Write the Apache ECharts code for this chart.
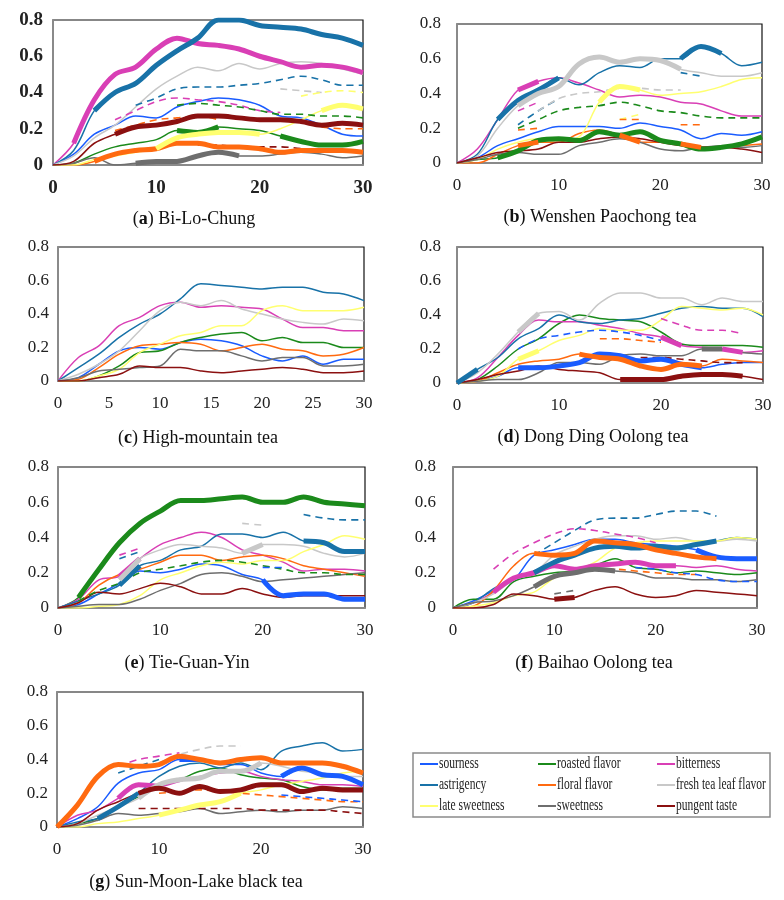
<!DOCTYPE html>
<html>
<head>
<meta charset="utf-8">
<script src="https://cdn.jsdelivr.net/npm/echarts@6.0.0/dist/echarts.min.js"></script>
<style>html,body{margin:0;background:#fff}#chart{width:784px;height:900px}</style>
</head>
<body>
<div id="chart"></div>
<script>
var _ = null;
// time points (s)
var secs = [0, 2, 4, 6, 8, 10, 12, 14, 16, 18, 20, 22, 24, 26, 28, 30];
var attrNames = ['sourness', 'roasted flavor', 'bitterness', 'astrigency', 'floral flavor',
    'fresh tea leaf flavor', 'late sweetness', 'sweetness', 'pungent taste'];
var colors = ['#1a5cff', '#1b8a1b', '#d93fb5', '#1872a8', '#ff6a10', '#c8c8c8', '#ffff70', '#6e6e6e', '#8b1010'];
var yTicks = [0, 0.2, 0.4, 0.6, 0.8];

// (a) Bi-Lo-Chung
var aSour   = [0, 0.06, 0.17, 0.22, 0.27, 0.26, 0.32, 0.35, 0.37, 0.36, 0.33, 0.27, 0.26, 0.22, 0.17, 0.16];
var aRoast  = [0, 0.01, 0.06, 0.10, 0.12, 0.14, 0.19, 0.18, 0.21, 0.20, 0.19, 0.16, 0.13, 0.11, 0.11, 0.13];
var aBitter = [0, 0.12, 0.36, 0.50, 0.54, 0.64, 0.70, 0.67, 0.66, 0.64, 0.60, 0.57, 0.54, 0.55, 0.54, 0.51];
var aAstr   = [0, 0.08, 0.30, 0.40, 0.45, 0.55, 0.63, 0.70, 0.80, 0.80, 0.77, 0.76, 0.75, 0.72, 0.70, 0.66];
var aFloral = [0, 0, 0.02, 0.06, 0.08, 0.09, 0.12, 0.12, 0.10, 0.10, 0.09, 0.07, 0.08, 0.08, 0.08, 0.07];
var aFresh  = [0, 0.05, 0.15, 0.22, 0.32, 0.42, 0.49, 0.54, 0.52, 0.56, 0.53, 0.56, 0.57, 0.56, 0.53, 0.50];
var aLate   = [0, 0, 0.03, 0.05, 0.07, 0.09, 0.15, 0.17, 0.18, 0.18, 0.17, 0.20, 0.25, 0.30, 0.33, 0.31];
var aSweet  = [0, 0.01, 0.04, 0, 0.01, 0.02, 0.02, 0.05, 0.07, 0.05, 0.05, 0.06, 0.07, 0.06, 0.04, 0.05];
var aPung   = [0, 0.02, 0.12, 0.17, 0.21, 0.22, 0.24, 0.27, 0.27, 0.26, 0.25, 0.25, 0.24, 0.22, 0.23, 0.22];
var aThick  = [[], [[12, 16], [22, 30]], [[2, 30]], [[4, 30]], [[4, 30]], [], [[10, 20], [26, 30]], [[8, 18]], [[6, 30]]];
var aAstrDash   = [_, _, _, _, 0.33, 0.37, 0.42, 0.43, 0.43, 0.44, 0.45, 0.47, 0.49, 0.47, 0.44, 0.44];
var aBitterDash = [_, _, _, 0.25, 0.30, 0.35, 0.37, 0.36, 0.35, 0.33, 0.30, 0.29, _, _, _, _];
var aRoastDash  = [_, _, _, _, _, _, 0.33, 0.34, 0.33, 0.32, 0.30, 0.28, 0.28, 0.27, 0.27, 0.26];
var aFloralDash = [_, _, _, 0.19, 0.22, 0.25, 0.26, 0.27, 0.25, _, _, _, _, 0.21, 0.20, 0.20];
var aFreshDash  = [_, _, _, _, _, _, _, _, _, _, _, 0.42, 0.41, 0.40, _, _];
var aLateDash   = [_, _, _, _, _, _, _, _, _, _, _, _, 0.38, 0.40, 0.41, 0.40];
var aPungDash   = [_, _, _, _, _, _, _, 0.11, 0.11, 0.10, 0.10, 0.10, 0.09, _, _, _];

// (b) Wenshen Paochong tea
var bSour   = [0, 0.03, 0.10, 0.14, 0.18, 0.21, 0.21, 0.21, 0.20, 0.23, 0.21, 0.19, 0.14, 0.17, 0.16, 0.18];
var bRoast  = [0, 0.02, 0.03, 0.07, 0.13, 0.14, 0.13, 0.18, 0.16, 0.18, 0.13, 0.11, 0.08, 0.09, 0.11, 0.15];
var bBitter = [0, 0.08, 0.25, 0.42, 0.47, 0.49, 0.46, 0.42, 0.38, 0.39, 0.38, 0.35, 0.34, 0.30, 0.27, 0.27];
var bAstr   = [0, 0.05, 0.25, 0.36, 0.42, 0.49, 0.45, 0.52, 0.56, 0.55, 0.60, 0.60, 0.67, 0.63, 0.56, 0.58];
var bFloral = [0, 0, 0.05, 0.10, 0.12, 0.12, 0.17, 0.19, 0.16, 0.12, 0.12, 0.11, 0.09, 0.09, 0.10, 0.11];
var bFresh  = [0, 0.04, 0.20, 0.33, 0.40, 0.44, 0.57, 0.61, 0.58, 0.60, 0.59, 0.54, 0.52, 0.50, 0.50, 0.52];
var bLate   = [0, 0.02, 0.08, 0.12, 0.14, 0.13, 0.15, 0.35, 0.44, 0.42, 0.39, 0.40, 0.41, 0.44, 0.48, 0.49];
var bSweet  = [0, 0.02, 0.05, 0.06, 0.05, 0.05, 0.10, 0.12, 0.14, 0.12, 0.08, 0.07, 0.09, 0.10, 0.09, 0.10];
var bPung   = [0, 0.03, 0.06, 0.07, 0.08, 0.12, 0.12, 0.14, 0.15, 0.14, 0.12, 0.10, 0.09, 0.09, 0.08, 0.06];
var bThick  = [[], [[4, 30]], [[6, 8]], [[4, 10], [22, 26]], [[6, 8], [16, 18], [22, 24]], [[6, 8], [10, 22]], [[14, 18]], [], []];
var bAstrDash   = [_, _, _, 0.22, 0.30, 0.37, _, _, _, _, _, 0.52, 0.50, _, _, _];
var bFreshDash  = [_, _, _, _, 0.30, 0.37, 0.40, 0.41, 0.43, 0.43, 0.42, 0.42, _, _, _, _];
var bBitterDash = [_, _, _, 0.30, 0.35, _, _, _, _, _, _, _, _, _, _, _];
var bRoastDash  = [_, _, _, 0.20, 0.25, 0.30, 0.32, 0.33, 0.35, 0.33, 0.30, 0.29, 0.27, 0.26, 0.26, 0.26];
var bLateDash   = [_, _, _, _, _, _, _, _, 0.25, 0.28, _, _, _, _, _, _];
var bFloralDash = [_, _, _, 0.19, 0.20, _, _, _, 0.25, 0.25, _, 0.22, 0.22, _, _, _];

// (c) High-mountain tea
var cSour   = [0, 0.02, 0.10, 0.18, 0.20, 0.19, 0.23, 0.25, 0.24, 0.21, 0.15, 0.12, 0.15, 0.10, 0.13, 0.13];
var cRoast  = [0, 0, 0.03, 0.09, 0.17, 0.18, 0.23, 0.26, 0.28, 0.29, 0.24, 0.26, 0.23, 0.23, 0.20, 0.20];
var cBitter = [0, 0.14, 0.21, 0.33, 0.38, 0.45, 0.47, 0.44, 0.45, 0.44, 0.43, 0.37, 0.32, 0.32, 0.30, 0.30];
var cAstr   = [0, 0.08, 0.16, 0.26, 0.34, 0.40, 0.49, 0.58, 0.57, 0.56, 0.55, 0.56, 0.56, 0.53, 0.52, 0.48];
var cFloral = [0, 0.01, 0.08, 0.16, 0.21, 0.22, 0.23, 0.22, 0.18, 0.20, 0.22, 0.19, 0.18, 0.15, 0.16, 0.20];
var cFresh  = [0, 0.04, 0.10, 0.18, 0.30, 0.42, 0.47, 0.45, 0.48, 0.43, 0.40, 0.37, 0.35, 0.34, 0.37, 0.36];
var cLate   = [0, 0, 0.03, 0.07, 0.17, 0.22, 0.27, 0.29, 0.33, 0.33, 0.42, 0.45, 0.42, 0.42, 0.42, 0.44];
var cSweet  = [0, 0.02, 0.06, 0.07, 0.08, 0.09, 0.19, 0.18, 0.18, 0.15, 0.12, 0.14, 0.14, 0.09, 0.09, 0.10];
var cPung   = [0, 0, 0.02, 0.04, 0.09, 0.08, 0.08, 0.06, 0.05, 0.06, 0.07, 0.08, 0.07, 0.05, 0.05, 0.06];
var cThick  = [[], [], [], [], [], [], [], [], []];

// (d) Dong Ding Oolong tea
var dSour   = [0, 0.01, 0.04, 0.09, 0.09, 0.10, 0.12, 0.17, 0.16, 0.13, 0.14, 0.11, 0.09, 0.11, 0.12, 0.12];
var dRoast  = [0, 0.02, 0.10, 0.20, 0.26, 0.35, 0.40, 0.38, 0.37, 0.36, 0.30, 0.23, 0.22, 0.22, 0.22, 0.21];
var dBitter = [0, 0.03, 0.15, 0.28, 0.37, 0.36, 0.36, 0.34, 0.32, 0.29, 0.27, 0.22, 0.21, 0.20, 0.18, 0.19];
var dAstr   = [0, 0.08, 0.15, 0.26, 0.32, 0.40, 0.36, 0.35, 0.37, 0.38, 0.41, 0.44, 0.45, 0.44, 0.44, 0.39];
var dFloral = [0, 0.01, 0.06, 0.11, 0.13, 0.14, 0.17, 0.15, 0.14, 0.10, 0.08, 0.11, 0.10, 0.14, 0.13, 0.12];
var dFresh  = [0, 0.06, 0.17, 0.30, 0.41, 0.42, 0.37, 0.47, 0.53, 0.53, 0.50, 0.50, 0.46, 0.50, 0.48, 0.48];
var dLate   = [0, 0.01, 0.04, 0.14, 0.19, 0.25, 0.28, 0.32, 0.31, 0.31, 0.37, 0.45, 0.44, 0.43, 0.44, 0.40];
var dSweet  = [0, 0.01, 0.02, 0.02, 0.06, 0.12, 0.12, 0.11, 0.16, 0.17, 0.16, 0.16, 0.20, 0.20, 0.18, 0.17];
var dPung   = [0, 0.02, 0.05, 0.07, 0.10, 0.08, 0.07, 0.06, 0.02, 0.02, 0.02, 0.04, 0.05, 0.05, 0.04, 0.02];
var dThick  = [[[6, 24]], [], [[20, 22], [26, 28]], [[0, 2]], [[12, 24]], [[6, 8]], [[6, 8]], [[24, 26]], [[16, 28]]];
var dSourDash   = [_, _, _, 0.20, 0.26, 0.28, 0.30, 0.31, 0.30, 0.28, 0.25, _, _, _, _, _];
var dFloralDash = [_, _, _, _, _, _, _, 0.26, 0.26, 0.25, 0.24, _, _, _, _, _];
var dBitterDash = [_, _, _, _, _, _, _, _, _, _, 0.38, 0.34, 0.31, 0.31, 0.29, _];
var dPungDash   = [_, _, _, _, _, _, _, _, _, 0.15, 0.15, 0.14, 0.13, 0.12, 0.12, _];

// (e) Tie-Guan-Yin
var eSour   = [0, 0.02, 0.08, 0.14, 0.21, 0.20, 0.22, 0.25, 0.24, 0.19, 0.16, 0.07, 0.08, 0.08, 0.05, 0.05];
var eRoast  = [0, 0.06, 0.22, 0.37, 0.48, 0.55, 0.61, 0.61, 0.62, 0.63, 0.60, 0.60, 0.63, 0.60, 0.59, 0.58];
var eBitter = [0, 0.05, 0.16, 0.18, 0.28, 0.36, 0.40, 0.43, 0.40, 0.33, 0.30, 0.26, 0.21, 0.22, 0.22, 0.21];
var eAstr   = [0, 0.04, 0.08, 0.13, 0.24, 0.27, 0.33, 0.35, 0.42, 0.42, 0.40, 0.43, 0.38, 0.37, 0.32, 0.32];
var eFloral = [0, 0.03, 0.13, 0.19, 0.22, 0.26, 0.30, 0.30, 0.27, 0.29, 0.30, 0.28, 0.24, 0.22, 0.20, 0.18];
var eFresh  = [_, _, _, 0.16, 0.28, 0.33, 0.36, 0.35, 0.34, 0.31, 0.36, 0.36, 0.35, 0.31, 0.29, 0.31];
var eLate   = [0, 0, 0.01, 0.02, 0.07, 0.16, 0.20, 0.24, 0.26, 0.25, 0.27, 0.27, 0.32, 0.36, 0.41, 0.39];
var eSweet  = [0, 0.01, 0.02, 0.02, 0.05, 0.10, 0.14, 0.19, 0.20, 0.18, 0.15, 0.16, 0.17, 0.18, 0.19, 0.20];
var ePung   = [0, 0.03, 0.09, 0.08, 0.11, 0.14, 0.12, 0.08, 0.08, 0.11, 0.08, 0.06, 0.07, 0.07, 0.07, 0.07];
var eThick  = [[[20, 30]], [[2, 30]], [[6, 8]], [[6, 8], [24, 30]], [], [[6, 8], [18, 20]], [], [], []];
var eRoastDash  = [_, 0.04, 0.10, 0.14, 0.20, 0.22, 0.24, 0.26, 0.27, 0.26, 0.24, 0.22, 0.20, 0.20, 0.19, 0.19];
var eAstrDash   = [_, _, _, 0.28, 0.32, _, _, _, _, _, _, _, 0.53, 0.51, 0.50, 0.50];
var eBitterDash = [_, _, _, 0.30, 0.34, _, _, _, _, _, _, _, _, _, _, _];
var eFreshDash  = [_, _, _, _, _, _, _, _, _, 0.48, 0.47, _, _, _, _, _];
var eSourDash   = [_, _, _, _, _, _, _, _, _, _, 0.23, 0.23, _, _, _, _];

// (f) Baihao Oolong tea
var fSour   = [0, 0.04, 0.10, 0.16, 0.30, 0.33, 0.36, 0.39, 0.39, 0.37, 0.36, 0.35, 0.33, 0.29, 0.28, 0.28];
var fRoast  = [0, 0.05, 0.05, 0.15, 0.18, 0.20, 0.21, 0.24, 0.28, 0.23, 0.22, 0.20, 0.21, 0.20, 0.19, 0.20];
var fBitter = [0, 0.03, 0.09, 0.17, 0.20, 0.24, 0.22, 0.24, 0.25, 0.26, 0.24, 0.24, 0.23, 0.24, 0.22, 0.21];
var fAstr   = [0, 0.03, 0.11, 0.16, 0.20, 0.26, 0.30, 0.34, 0.35, 0.34, 0.35, 0.34, 0.36, 0.38, 0.40, 0.39];
var fFloral = [0, 0.01, 0.10, 0.24, 0.31, 0.30, 0.31, 0.38, 0.37, 0.36, 0.33, 0.31, 0.29, 0.28, _, _];
var fFresh  = [0, 0.03, 0.08, 0.16, 0.20, 0.30, 0.35, 0.39, 0.41, 0.41, 0.39, 0.40, 0.38, 0.38, 0.39, 0.38];
var fLate   = [0, 0.01, 0.03, 0.07, 0.09, 0.17, 0.21, 0.26, 0.34, 0.37, 0.38, 0.38, 0.38, 0.38, 0.40, 0.39];
var fSweet  = [0, 0.03, 0.04, 0.07, 0.12, 0.18, 0.20, 0.22, 0.21, 0.20, 0.17, 0.17, 0.16, 0.16, 0.15, 0.16];
var fPung   = [0, 0, 0.02, 0.08, 0.07, 0.05, 0.06, 0.10, 0.12, 0.08, 0.06, 0.07, 0.10, 0.09, 0.08, 0.07];
var fThick  = [[[24, 30]], [], [[4, 22]], [[8, 26]], [[8, 10], [12, 26]], [], [], [[8, 16]], [[10, 12]]];
var fAstrDash   = [_, _, _, _, 0.30, 0.37, 0.44, 0.50, 0.51, 0.51, 0.53, 0.55, 0.55, 0.52, _, _];
var fBitterDash = [_, _, 0.22, 0.31, 0.37, 0.42, 0.45, 0.44, 0.42, 0.40, 0.37, _, _, _, _, _];
var fFloralDash = [_, _, _, _, _, _, _, 0.22, 0.22, 0.21, 0.20, 0.19, 0.19, _, _, _];
var fSourDash   = [_, _, _, _, _, _, _, _, _, 0.23, 0.22, 0.20, 0.19, 0.16, 0.15, 0.15];
var fSweetDash  = [_, _, _, _, _, 0.08, 0.10, _, _, _, _, _, _, _, _, _];

// (g) Sun-Moon-Lake black tea
var gSour   = [0, 0.05, 0.12, 0.26, 0.32, 0.34, 0.40, 0.40, 0.37, 0.37, 0.32, 0.30, 0.35, 0.31, 0.30, 0.25];
var gRoast  = [0, 0.02, 0.05, 0.12, 0.18, 0.24, 0.28, 0.33, 0.35, 0.31, 0.29, 0.28, 0.24, 0.22, 0.23, 0.23];
var gBitter = [0, 0.07, 0.10, 0.17, 0.25, 0.24, 0.27, 0.30, 0.32, 0.33, 0.30, 0.28, 0.27, 0.25, 0.25, 0.24];
var gAstr   = [0, 0.03, 0.05, 0.12, 0.20, 0.30, 0.36, 0.38, 0.35, 0.38, 0.34, 0.45, 0.48, 0.50, 0.45, 0.46];
var gFloral = [0, 0.13, 0.30, 0.37, 0.36, 0.37, 0.42, 0.40, 0.38, 0.40, 0.41, 0.38, 0.38, 0.38, 0.36, 0.32];
var gFresh  = [0, 0.02, 0.07, 0.12, 0.17, 0.25, 0.28, 0.29, 0.33, 0.33, 0.38, 0.36, 0.33, 0.32, 0.30, 0.30];
var gLate   = [0, 0, 0.02, 0.03, 0.05, 0.07, 0.10, 0.13, 0.15, 0.20, 0.22, 0.25, 0.27, 0.29, 0.32, 0.33];
var gSweet  = [0, 0.01, 0.04, 0.08, 0.07, 0.08, 0.09, 0.11, 0.08, 0.09, 0.10, 0.09, 0.10, 0.10, 0.12, 0.11];
var gPung   = [0, 0.02, 0.10, 0.15, 0.20, 0.23, 0.20, 0.24, 0.21, 0.22, 0.25, 0.25, 0.21, 0.23, 0.22, 0.22];
var gThick  = [[[12, 14], [22, 30]], [], [[6, 10]], [[4, 8]], [[0, 30]], [[8, 20]], [[10, 18]], [], [[8, 30]]];
var gFreshDash  = [_, _, _, _, _, 0.38, 0.43, 0.46, 0.48, 0.48, _, _, _, _, _, _];
var gBitterDash = [_, _, _, 0.36, 0.40, 0.42, 0.44, _, _, _, _, _, _, _, _, _];
var gAstrDash   = [_, _, _, 0.32, 0.36, 0.40, _, _, _, _, _, _, _, _, _, _];
var gFloralDash = [_, _, _, _, _, 0.20, 0.21, 0.22, 0.21, 0.20, 0.19, 0.18, 0.17, 0.16, 0.15, 0.15];
var gSourDash   = [_, _, _, _, _, _, _, _, _, _, _, 0.19, 0.18, 0.17, 0.16, 0.15];
var gPungDash   = [_, _, _, _, 0.11, 0.11, 0.11, 0.11, 0.11, 0.11, 0.10, 0.10, 0.10, 0.10, 0.09, 0.08];

var panels = [
    {tag: 'a', name: 'Bi-Lo-Chung', lines: [aSour, aRoast, aBitter, aAstr, aFloral, aFresh, aLate, aSweet, aPung], thick: aThick,
        dash: [[3, aAstrDash], [2, aBitterDash], [1, aRoastDash], [4, aFloralDash], [5, aFreshDash], [6, aLateDash], [8, aPungDash]],
        grid: {left: 53, top: 20, width: 310, height: 145}, cap: [194, 219], step: 10, ym: 10, xm: 14, big: true},
    {tag: 'b', name: 'Wenshen Paochong tea', lines: [bSour, bRoast, bBitter, bAstr, bFloral, bFresh, bLate, bSweet, bPung], thick: bThick,
        dash: [[3, bAstrDash], [5, bFreshDash], [2, bBitterDash], [1, bRoastDash], [6, bLateDash], [4, bFloralDash]],
        grid: {left: 457, top: 24, width: 305, height: 139}, cap: [600, 217], step: 10, ym: 16, xm: 14},
    {tag: 'c', name: 'High-mountain tea', lines: [cSour, cRoast, cBitter, cAstr, cFloral, cFresh, cLate, cSweet, cPung], thick: cThick,
        dash: [],
        grid: {left: 58, top: 247, width: 306, height: 134}, cap: [198, 438], step: 5, ym: 9, xm: 14},
    {tag: 'd', name: 'Dong Ding Oolong tea', lines: [dSour, dRoast, dBitter, dAstr, dFloral, dFresh, dLate, dSweet, dPung], thick: dThick,
        dash: [[0, dSourDash], [4, dFloralDash], [2, dBitterDash], [8, dPungDash]],
        grid: {left: 457, top: 247, width: 306, height: 136}, cap: [593, 437], step: 10, ym: 16, xm: 14},
    {tag: 'e', name: 'Tie-Guan-Yin', lines: [eSour, eRoast, eBitter, eAstr, eFloral, eFresh, eLate, eSweet, ePung], thick: eThick,
        dash: [[1, eRoastDash], [3, eAstrDash], [2, eBitterDash], [5, eFreshDash], [0, eSourDash]],
        grid: {left: 58, top: 467, width: 307, height: 141}, cap: [187, 663], step: 10, ym: 9, xm: 14},
    {tag: 'f', name: 'Baihao Oolong tea', lines: [fSour, fRoast, fBitter, fAstr, fFloral, fFresh, fLate, fSweet, fPung], thick: fThick,
        dash: [[3, fAstrDash], [2, fBitterDash], [4, fFloralDash], [0, fSourDash], [7, fSweetDash]],
        grid: {left: 453, top: 467, width: 304, height: 141}, cap: [594, 663], step: 10, ym: 17, xm: 14},
    {tag: 'g', name: 'Sun-Moon-Lake black tea', lines: [gSour, gRoast, gBitter, gAstr, gFloral, gFresh, gLate, gSweet, gPung], thick: gThick,
        dash: [[5, gFreshDash], [2, gBitterDash], [3, gAstrDash], [4, gFloralDash], [0, gSourDash], [8, gPungDash]],
        grid: {left: 57, top: 692, width: 306, height: 135}, cap: [196, 882], step: 10, ym: 9, xm: 14}
];

function pairs(vals) {
    return secs.map(function (s, i) { return [s, vals[i] == null ? '-' : vals[i]]; });
}
function mask(vals, ranges) {
    return secs.map(function (s, i) {
        var on = ranges.some(function (r) { return s >= r[0] && s <= r[1]; });
        return on ? vals[i] : null;
    });
}
function line(k, name, color, data, width, type) {
    return {
        type: 'line', name: name, xAxisIndex: k, yAxisIndex: k, data: data,
        smooth: 0.35, symbol: 'none', silent: true,
        lineStyle: {color: color, width: width, type: type},
        itemStyle: {color: color}
    };
}

var grids = [], xAxes = [], yAxes = [], series = [], graphics = [];
var serif = 'Liberation Serif';

panels.forEach(function (p, k) {
    var fs = p.big ? 19 : 17;
    var labelStyle = {fontFamily: serif, fontSize: fs, color: '#222', fontWeight: p.big ? 'bold' : 'normal'};
    grids.push(Object.assign({show: true, borderColor: '#111', borderWidth: 1.2}, p.grid));
    xAxes.push({
        gridIndex: k, type: 'value', min: 0, max: 30, interval: p.step,
        axisLine: {lineStyle: {color: '#8a8a8a', width: 2}},
        axisTick: {show: false}, splitLine: {show: false},
        axisLabel: Object.assign({margin: p.xm}, labelStyle)
    });
    yAxes.push({
        gridIndex: k, type: 'value', min: yTicks[0], max: yTicks[yTicks.length - 1], interval: 0.2,
        axisLine: {show: true, lineStyle: {color: '#8a8a8a', width: 2}},
        axisTick: {show: false}, splitLine: {show: false},
        axisLabel: Object.assign({margin: p.ym}, labelStyle)
    });
    p.lines.forEach(function (vals, j) {
        series.push(line(k, attrNames[j], colors[j], pairs(vals), 1.5, 'solid'));
    });
    p.dash.forEach(function (d) {
        series.push(line(k, 'dash ' + attrNames[d[0]], colors[d[0]], pairs(d[1]), 1.6, [7, 5]));
    });
    p.lines.forEach(function (vals, j) {
        if (p.thick[j].length) {
            series.push(line(k, 'thick ' + attrNames[j], colors[j], pairs(mask(vals, p.thick[j])), 5, 'solid'));
        }
    });
    graphics.push({
        type: 'text', x: p.cap[0], y: p.cap[1],
        style: {
            text: '(' + '{b|' + p.tag + '}) ' + p.name,
            fontFamily: serif, fontSize: 18, fill: '#111',
            align: 'center', verticalAlign: 'middle',
            rich: {b: {fontFamily: serif, fontSize: 18, fontWeight: 'bold', fill: '#111'}}
        }
    });
});

// legend box: 3 columns x 3 rows, narrow serif text
graphics.push({
    type: 'rect', shape: {x: 413, y: 753, width: 357, height: 64},
    style: {fill: 'none', stroke: '#8a8a8a', lineWidth: 1.5}
});
var legCols = [420, 538, 657], legRows = [764, 785, 806];
attrNames.forEach(function (n, i) {
    var cx = legCols[i % 3], cy = legRows[Math.floor(i / 3)];
    graphics.push({
        type: 'line', shape: {x1: cx, y1: cy, x2: cx + 18, y2: cy},
        style: {stroke: colors[i], lineWidth: 2}
    });
    graphics.push({
        type: 'text', x: cx + 19, y: cy, scaleX: 0.72,
        style: {text: n, fontFamily: serif, fontSize: 16, fill: '#222', align: 'left', verticalAlign: 'middle'}
    });
});

var chart = echarts.init(document.getElementById('chart'));
chart.setOption({
    animation: false,
    backgroundColor: '#fff',
    grid: grids,
    xAxis: xAxes,
    yAxis: yAxes,
    graphic: graphics,
    series: series
});
</script>
</body>
</html>
